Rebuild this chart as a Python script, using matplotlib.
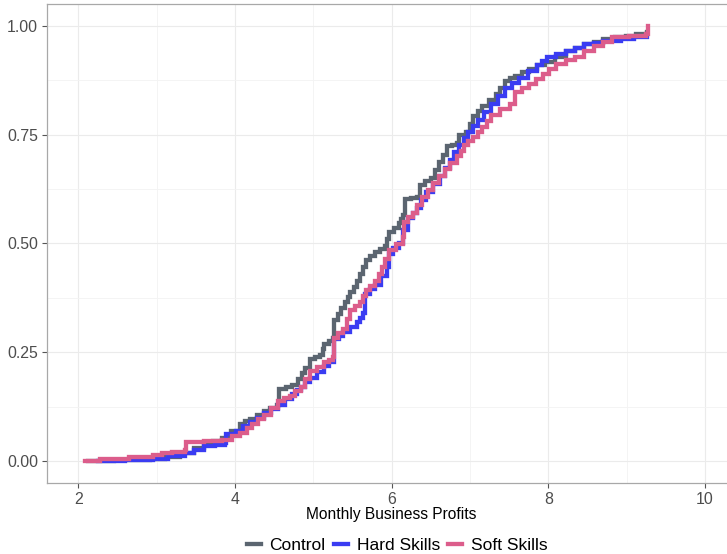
import matplotlib.pyplot as plt
from matplotlib.ticker import MultipleLocator

plt.rcParams['font.family'] = ['Liberation Sans', 'DejaVu Sans']

# ECDF breakpoints: profit value where the step happens and cumulative share after it
ctrl_x = [2.12, 2.45, 2.92, 3.10, 3.30, 3.48, 3.60, 3.72, 3.84, 3.95, 4.07, 4.13, 4.19, 4.28,
          4.37, 4.45, 4.54, 4.56, 4.65, 4.73, 4.80, 4.86, 4.90, 4.96, 5.02, 5.08, 5.12,
          5.14, 5.20, 5.25, 5.27, 5.31, 5.35, 5.40, 5.44, 5.47, 5.52, 5.56, 5.60, 5.64,
          5.67, 5.72, 5.79, 5.85, 5.91, 5.94, 5.97, 6.03, 6.09, 6.12, 6.15, 6.17, 6.25,
          6.33, 6.36, 6.43, 6.50, 6.55, 6.60, 6.65, 6.71, 6.77, 6.83, 6.86, 6.95, 7.00,
          7.04, 7.10, 7.16, 7.24, 7.33, 7.39, 7.45, 7.51, 7.57, 7.66, 7.75, 7.85, 7.96,
          8.08, 8.22, 8.34, 8.46, 8.58, 8.70, 8.85, 8.99, 9.12, 9.26]
ctrl_y = [0.000, 0.002, 0.006, 0.010, 0.018, 0.030, 0.038, 0.046, 0.054, 0.070, 0.086, 0.092,
          0.097, 0.106, 0.115, 0.122, 0.130, 0.167, 0.171, 0.175, 0.190, 0.203, 0.215,
          0.235, 0.239, 0.244, 0.258, 0.270, 0.277, 0.284, 0.324, 0.338, 0.352, 0.365,
          0.378, 0.389, 0.401, 0.413, 0.430, 0.447, 0.461, 0.471, 0.481, 0.487, 0.494,
          0.510, 0.526, 0.536, 0.546, 0.556, 0.566, 0.602, 0.604, 0.606, 0.635, 0.643,
          0.651, 0.668, 0.686, 0.703, 0.723, 0.727, 0.731, 0.748, 0.756, 0.775, 0.792,
          0.804, 0.816, 0.830, 0.844, 0.858, 0.873, 0.879, 0.885, 0.893, 0.901, 0.909,
          0.917, 0.929, 0.941, 0.949, 0.957, 0.963, 0.969, 0.973, 0.977, 0.981, 0.985]

hard_x = [2.25, 2.60, 2.95, 3.15, 3.36, 3.48, 3.60, 3.74, 3.87, 3.88, 4.01, 4.10, 4.19, 4.28,
          4.37, 4.46, 4.55, 4.64, 4.73, 4.79, 4.84, 4.90, 4.96, 5.05, 5.14, 5.20, 5.26,
          5.27, 5.33, 5.38, 5.47, 5.56, 5.60, 5.64, 5.66, 5.72, 5.79, 5.86, 5.94, 5.96,
          6.02, 6.09, 6.15, 6.21, 6.27, 6.33, 6.38, 6.44, 6.53, 6.62, 6.68, 6.74, 6.80,
          6.86, 6.92, 6.98, 7.04, 7.10, 7.18, 7.27, 7.36, 7.45, 7.54, 7.63, 7.74, 7.86,
          7.92, 7.98, 8.10, 8.22, 8.34, 8.46, 8.58, 8.70, 8.93, 9.10, 9.26]
hard_y = [0.000, 0.002, 0.006, 0.012, 0.018, 0.026, 0.034, 0.038, 0.042, 0.062, 0.070, 0.080,
          0.090, 0.100, 0.110, 0.120, 0.130, 0.142, 0.155, 0.163, 0.171, 0.181, 0.191,
          0.205, 0.219, 0.227, 0.235, 0.280, 0.288, 0.296, 0.308, 0.320, 0.330, 0.340,
          0.385, 0.395, 0.405, 0.425, 0.445, 0.477, 0.490, 0.502, 0.530, 0.558, 0.570,
          0.582, 0.600, 0.619, 0.637, 0.655, 0.673, 0.691, 0.709, 0.727, 0.741, 0.756,
          0.770, 0.784, 0.802, 0.820, 0.838, 0.856, 0.868, 0.881, 0.895, 0.909, 0.919,
          0.929, 0.935, 0.941, 0.949, 0.957, 0.961, 0.965, 0.969, 0.973, 0.977]

soft_x = [2.09, 2.27, 2.65, 2.95, 3.07, 3.19, 3.36, 3.38, 3.60, 3.84, 3.96, 4.07, 4.15, 4.22,
          4.30, 4.37, 4.46, 4.55, 4.62, 4.70, 4.77, 4.84, 4.90, 4.96, 5.05, 5.14, 5.20,
          5.25, 5.26, 5.32, 5.38, 5.43, 5.47, 5.53, 5.59, 5.63, 5.67, 5.73, 5.79, 5.84,
          5.88, 5.92, 5.97, 6.06, 6.15, 6.16, 6.21, 6.27, 6.33, 6.39, 6.46, 6.53, 6.60,
          6.68, 6.75, 6.83, 6.88, 6.92, 6.98, 7.04, 7.10, 7.16, 7.22, 7.27, 7.39, 7.51,
          7.57, 7.66, 7.75, 7.84, 7.93, 8.01, 8.10, 8.22, 8.34, 8.46, 8.58, 8.70, 8.81,
          9.03, 9.25, 9.27]
soft_y = [0.000, 0.006, 0.009, 0.014, 0.018, 0.022, 0.027, 0.044, 0.046, 0.050, 0.058, 0.065,
          0.076, 0.086, 0.096, 0.106, 0.122, 0.139, 0.145, 0.151, 0.161, 0.171, 0.189,
          0.207, 0.217, 0.227, 0.233, 0.240, 0.284, 0.294, 0.304, 0.326, 0.348, 0.356,
          0.365, 0.379, 0.393, 0.403, 0.413, 0.429, 0.445, 0.465, 0.485, 0.499, 0.514,
          0.550, 0.560, 0.570, 0.588, 0.606, 0.622, 0.639, 0.655, 0.671, 0.685, 0.700,
          0.713, 0.727, 0.735, 0.744, 0.756, 0.768, 0.782, 0.796, 0.808, 0.820, 0.848,
          0.856, 0.865, 0.877, 0.889, 0.901, 0.913, 0.921, 0.929, 0.941, 0.953, 0.963,
          0.973, 0.977, 0.981, 1.000]

groups = ['Control', 'Hard Skills', 'Soft Skills']
colors = ['#5b6570', '#3a3cf2', '#dc5d8b']

fig = plt.figure(figsize=(7.27, 5.54), dpi=100)
ax = fig.add_axes([0.0647, 0.128, 0.948, 0.865])

for xs, ys, lab, col in zip([ctrl_x, hard_x, soft_x], [ctrl_y, hard_y, soft_y], groups, colors):
    ax.plot(xs, ys, drawstyle='steps-post', color=col, lw=3.1, label=lab,
            solid_joinstyle='miter')

ax.set_xlim(1.6, 10.4)
ax.set_ylim(-0.05, 1.05)
ax.xaxis.set_major_locator(MultipleLocator(2))
ax.xaxis.set_minor_locator(MultipleLocator(1))
ax.yaxis.set_major_locator(MultipleLocator(0.25))
ax.yaxis.set_minor_locator(MultipleLocator(0.125))
ax.yaxis.set_major_formatter(plt.FuncFormatter(lambda v, p: f'{v:.2f}'))

ax.grid(True, which='major', color='#ebebeb', lw=0.8)
ax.grid(True, which='minor', color='#f3f3f3', lw=0.6)
ax.set_axisbelow(True)
for s in ax.spines.values():
    s.set_color('#a8a8a8')
    s.set_linewidth(0.9)

ax.tick_params(which='major', length=3.5, color='#555555', labelsize=11.4,
               labelcolor='#4d4d4d', pad=3)
ax.tick_params(which='minor', length=0)
ax.set_xlabel('Monthly Business Profits', fontsize=11.2, labelpad=0)

ax.legend(loc='upper center', bbox_to_anchor=(0.508, -0.081), ncol=3, frameon=False,
          fontsize=12.5, handlelength=0.8, handletextpad=0.5, columnspacing=0.5)

fig.savefig('out.png', dpi=100)
